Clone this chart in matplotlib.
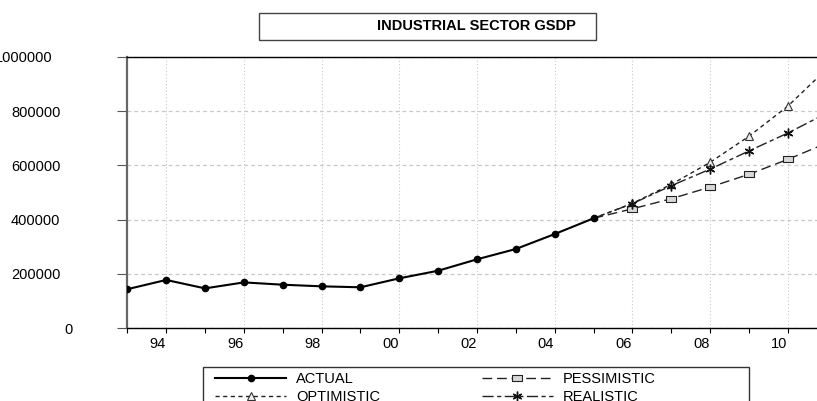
import matplotlib.pyplot as plt
from matplotlib.patches import Rectangle
from matplotlib.transforms import ScaledTranslation

plt.rcParams['font.family'] = ['Liberation Sans', 'DejaVu Sans']
plt.rcParams['font.size'] = 10.5

# data
years_actual = [1993, 1994, 1995, 1996, 1997, 1998, 1999, 2000, 2001, 2002, 2003, 2004, 2005]
actual = [144000, 178000, 147000, 169000, 160500, 154500, 151000, 184000, 212000, 254000, 292000, 347000, 405000]

years_fc = [2005, 2006, 2007, 2008, 2009, 2010, 2011]
optimistic = [405000, 460000, 530000, 611000, 707000, 818000, 955000]
pessimistic = [405000, 440000, 477000, 520000, 567000, 622000, 682000]
realistic = [405000, 459000, 525000, 586000, 653000, 719000, 792000]

yticks = [0, 200000, 400000, 600000, 800000, 1000000]
ytick_labels = ['0', '200000', '400000', '600000', '800000', '1000000']
major_years = list(range(1994, 2012, 2))
major_labels = ['%02d' % (y % 100) for y in major_years]
minor_years = list(range(1993, 2012, 2))

W, H = 817, 401
fig = plt.figure(figsize=(W / 100, H / 100), dpi=100)
# axes run a little past the right edge, like the cropped original
ax = fig.add_axes([127.3 / W, 72.7 / H, (826.7 - 127.3) / W, 271.6 / H])

ax.plot(years_actual, actual, color='black', lw=1.5, marker='o', ms=4.5,
        label='ACTUAL', zorder=5)
ax.plot(years_fc, optimistic, color='#222222', lw=1, dashes=(3, 2.5),
        marker='^', ms=6, mfc='#f0f0f0', mec='#333333', mew=0.8,
        markevery=slice(1, None), label='OPTIMISTIC', zorder=4)
rect_marker = [(-1.7, -1), (1.7, -1), (1.7, 1), (-1.7, 1), (-1.7, -1)]
ax.plot(years_fc, pessimistic, color='#222222', lw=1, dashes=(7, 3.5),
        marker=rect_marker, ms=7, mfc='#d8d8d8', mec='#222222', mew=0.8,
        markevery=slice(1, None), label='PESSIMISTIC', zorder=4)
ax.plot(years_fc, realistic, color='#222222', lw=1, dashes=(8, 2.5, 3, 2.5),
        marker=(6, 2, 0), ms=7, mec='#111111', mew=1,
        markevery=slice(1, None), label='REALISTIC', zorder=4)

ax.set_xlim(1993, 2011)
ax.set_ylim(0, 1000000)

ax.set_xticks(major_years)
ax.set_xticklabels(major_labels)
ax.set_xticks(minor_years, minor=True)
ax.set_yticks(yticks)
ax.set_yticklabels(ytick_labels)

ax.tick_params(axis='x', which='both', direction='out', length=3.6, width=0.8,
               color='black', pad=3)
ax.tick_params(axis='y', direction='out', length=7.2, width=0.8,
               color='#555555', pad=41)

ax.grid(axis='x', which='major', color='#c8c8c8', ls=(0, (1, 2)), lw=0.8)
ax.grid(axis='y', color='#c8c8c8', ls=(0, (3, 2.5)), lw=0.9)
ax.set_axisbelow(True)

ax.spines['left'].set_color('#666666')
ax.spines['left'].set_linewidth(1.6)
ax.spines['bottom'].set_linewidth(1)
ax.spines['top'].set_linewidth(1)
ax.spines['right'].set_visible(False)

# labels in the original sit a bit left of their tick
shift = ScaledTranslation(-8.7 / 100, 0, fig.dpi_scale_trans)
for lab in ax.get_xticklabels():
    lab.set_transform(lab.get_transform() + shift)

# y labels are not all flush in the original
ylab_shift = {'0': 12, '1000000': -8}
for lab in ax.get_yticklabels():
    dx = ylab_shift.get(lab.get_text(), 0)
    if dx:
        lab.set_transform(lab.get_transform() +
                          ScaledTranslation(dx / 100, 0, fig.dpi_scale_trans))

# title box
fig.patches.append(Rectangle((259 / W, 1 - 40 / H), (596 - 259) / W, (40 - 12.7) / H,
                             transform=fig.transFigure, fill=False,
                             edgecolor='#444444', lw=1))
fig.text(476 / W, 1 - 26.5 / H, 'INDUSTRIAL SECTOR GSDP', ha='center', va='center',
         fontsize=10.5, fontweight='bold')

# legend (frame drawn separately, it runs off the bottom)
fig.patches.append(Rectangle((203 / W, -0.1), (749 - 203) / W, 1 - 366.7 / H + 0.1,
                             transform=fig.transFigure, fill=False,
                             edgecolor='#333333', lw=1))
fig.legend(loc='upper left', bbox_to_anchor=(215 / W, 1 - 372 / H), ncol=2,
           frameon=False, borderpad=0, borderaxespad=0, handlelength=4.9,
           handletextpad=0.68, columnspacing=6.95, labelspacing=0.27,
           fontsize=10.5)

plt.savefig('out.png', dpi=100)
